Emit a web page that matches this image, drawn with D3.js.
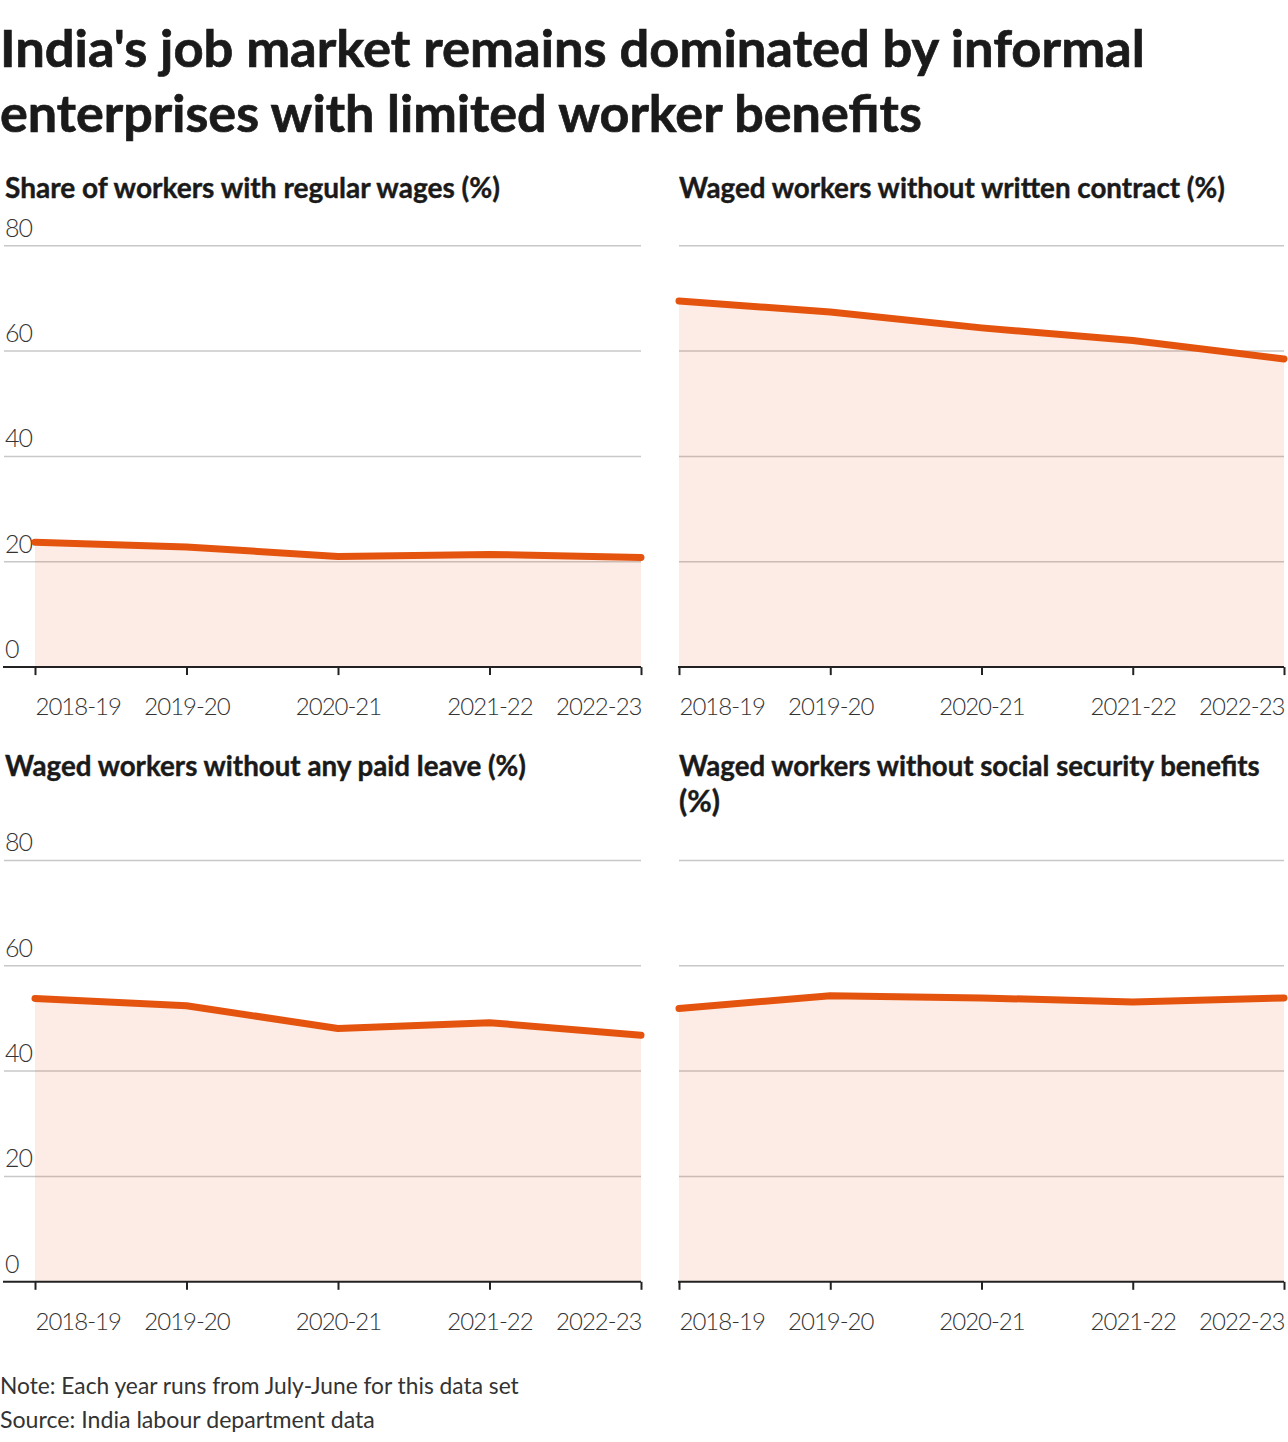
<!DOCTYPE html>
<html>
<head>
<meta charset="utf-8">
<script src="https://cdn.jsdelivr.net/npm/d3@7/dist/d3.min.js"></script>
<style>
  html, body { margin: 0; padding: 0; background: #fff; }
  svg { display: block; }
  text { font-family: "Source Sans Pro", Lato, "Noto Sans", sans-serif; }
</style>
</head>
<body>
<svg id="chart" width="1288" height="1442"></svg>
<script>
// ---- Data ----
const years = ["2018-19", "2019-20", "2020-21", "2021-22", "2022-23"];
const regularWages = [23.7, 22.8, 21.0, 21.4, 20.8];
const noWrittenContract = [69.5, 67.4, 64.4, 62.0, 58.5];
const noPaidLeave = [53.8, 52.4, 48.1, 49.2, 46.8];
const noSocialSecurity = [51.9, 54.3, 53.9, 53.1, 53.9];
const yTicks = [0, 20, 40, 60, 80];

const titleLines = ["India's job market remains dominated by informal",
                    "enterprises with limited worker benefits"];
const panelTitles = [
  ["Share of workers with regular wages (%)"],
  ["Waged workers without written contract (%)"],
  ["Waged workers without any paid leave (%)"],
  ["Waged workers without social security benefits", "(%)"]
];
const noteText = "Note: Each year runs from July-June for this data set";
const sourceText = "Source: India labour department data";

const panels = [
  { values: regularWages, title: panelTitles[0], col: 0, row: 0, labels: true },
  { values: noWrittenContract, title: panelTitles[1], col: 1, row: 0, labels: false },
  { values: noPaidLeave, title: panelTitles[2], col: 0, row: 1, labels: true },
  { values: noSocialSecurity, title: panelTitles[3], col: 1, row: 1, labels: false }
];

// ---- Layout ----
const svg = d3.select("#chart");
const LINE = "#e5540f";
const cols = [
  { gridX0: 4, x0: 35, x1: 641, titleX: 5 },
  { gridX0: 679, x0: 679, x1: 1284, titleX: 679 }
];
const rows = [
  { yTop: 245.7, yBot: 667.1, titleY: 198 },
  { yTop: 860.4, yBot: 1281.8, titleY: 776 }
];

function fit(sel, target) {
  const node = sel.node();
  const fs = parseFloat(sel.attr("font-size"));
  const w = node.getComputedTextLength();
  if (w > 0) sel.attr("font-size", (fs * target / w).toFixed(2));
  return sel;
}

// Title
const titleTargets = [1145, 922];
const titleBase = [67, 132];
titleLines.forEach((t, i) => {
  const s = svg.append("text").attr("x", 0).attr("y", titleBase[i])
    .attr("font-size", 44).attr("font-weight", 700).attr("fill", "#1a1a1a")
    .attr("stroke", "#1a1a1a").attr("stroke-width", 0.7).text(t);
  fit(s, titleTargets[i]);
});

const panelTitleTargets = [[495], [546], [521], [581, 41]];

panels.forEach((p, pi) => {
  const c = cols[p.col], r = rows[p.row];
  const x = d3.scalePoint().domain(years).range([c.x0, c.x1]);
  const y = d3.scaleLinear().domain([0, 80]).range([r.yBot, r.yTop]);
  const g = svg.append("g");

  // panel title
  p.title.forEach((t, li) => {
    const s = g.append("text").attr("x", c.titleX).attr("y", r.titleY + li * 36)
      .attr("font-size", 24).attr("font-weight", 700).attr("fill", "#1a1a1a")
      .attr("stroke", "#1a1a1a").attr("stroke-width", 0.4).text(t);
    fit(s, panelTitleTargets[pi][li]);
  });

  // gridlines
  g.selectAll("line.grid").data(yTicks.filter(d => d > 0)).join("line")
    .attr("x1", c.gridX0).attr("x2", c.x1)
    .attr("y1", d => y(d)).attr("y2", d => y(d))
    .attr("stroke", "#c8c8c8").attr("stroke-width", 1.5);

  // y labels
  if (p.labels) {
    g.selectAll("text.ylab").data(yTicks).join("text")
      .attr("x", 5).attr("y", d => y(d) - 9)
      .attr("font-size", 25).attr("font-weight", 300).attr("fill", "#333")
      .attr("letter-spacing", -1)
      .text(d => d);
  }

  const data = years.map((yr, i) => ({ yr, v: p.values[i] }));

  // area
  g.append("path").datum(data)
    .attr("d", d3.area().x(d => x(d.yr)).y0(y(0)).y1(d => y(d.v)))
    .attr("fill", "rgba(230,84,14,0.11)");

  // x axis
  const ax = g.append("g").attr("transform", `translate(0,${y(0)})`)
    .call(d3.axisBottom(x).tickSize(8).tickPadding(23).tickSizeOuter(0));
  ax.select(".domain").attr("stroke", "#222").attr("stroke-width", 2)
    .attr("d", `M${c.gridX0 - 1},0H${c.x1}`);
  ax.selectAll(".tick line").attr("stroke", "#222").attr("stroke-width", 2);
  ax.selectAll(".tick text")
    .attr("font-family", null)
    .attr("font-size", 24).attr("font-weight", 300).attr("fill", "#333")
    .attr("letter-spacing", -1)
    .attr("dy", "0.71em")
    .attr("text-anchor", (d, i) => i === 0 ? "start" : (i === years.length - 1 ? "end" : "middle"));
  ax.attr("font-family", null).attr("font-size", null);

  // line
  g.append("path").datum(data)
    .attr("d", d3.line().x(d => x(d.yr)).y(d => y(d.v)))
    .attr("fill", "none").attr("stroke", LINE).attr("stroke-width", 7)
    .attr("stroke-linecap", "round").attr("stroke-linejoin", "round");
});

// Notes
const n1 = svg.append("text").attr("x", 0).attr("y", 1394)
  .attr("font-size", 22).attr("fill", "#333").text(noteText);
fit(n1, 519);
const n2 = svg.append("text").attr("x", 0).attr("y", 1428)
  .attr("font-size", 22).attr("fill", "#333").text(sourceText);
fit(n2, 375);
</script>
</body>
</html>
